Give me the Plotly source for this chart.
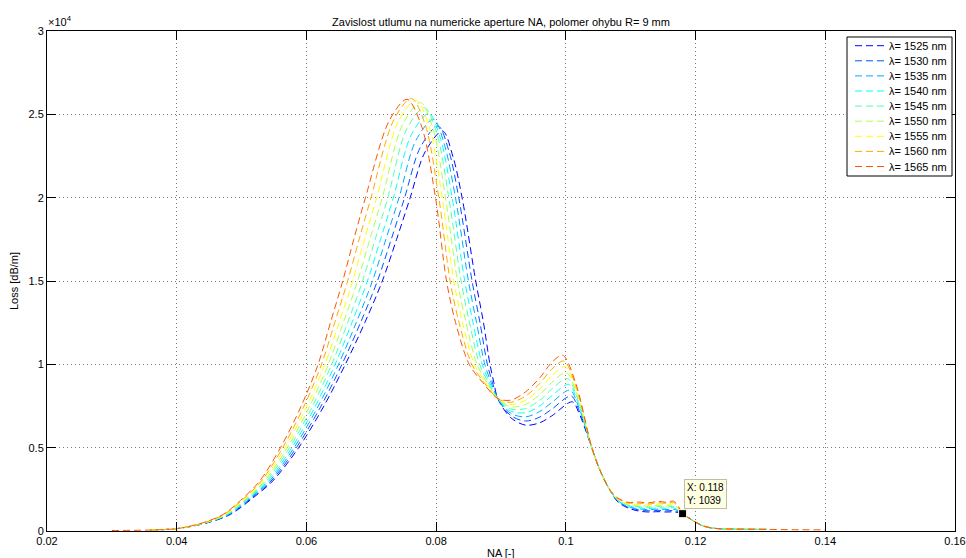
import plotly.graph_objects as go

# ---------------- data ----------------
wavelengths = [1525, 1530, 1535, 1540, 1545, 1550, 1555, 1560, 1565]
line_colors = ["rgb(0,0,255)", "rgb(0,85,255)", "rgb(0,170,255)", "rgb(0,255,255)",
               "rgb(85,255,170)", "rgb(170,255,85)", "rgb(255,255,0)", "rgb(255,170,0)",
               "rgb(255,85,0)"]

na_1525 = [0.036, 0.0402, 0.0448, 0.0483, 0.0518, 0.0548, 0.0588, 0.0627, 0.0660, 0.0690, 0.0717, 0.0739, 0.0760,
           0.0783, 0.0810, 0.0826, 0.0840, 0.0861, 0.0873, 0.0883, 0.0889, 0.0895, 0.0915, 0.0938, 0.0960, 0.0978,
           0.1010, 0.1020, 0.1040, 0.1052, 0.1068, 0.1080, 0.1096, 0.1112, 0.1128, 0.1142, 0.1156, 0.1166, 0.1174,
           0.1180, 0.1195, 0.1210, 0.1225, 0.1250, 0.1310]
loss_1525 = [60, 150, 500, 1000, 2000, 3000, 5000, 7500, 10000, 12500, 15000, 17500, 20000,
             22750, 24000, 22450, 20000, 15000, 12500, 10000, 8900, 7950, 6800, 6350, 6500, 6900,
             7750, 7100, 5000, 3700, 2450, 1750, 1380, 1200, 1140, 1160, 1140, 1150, 1100,
             1039, 650, 330, 180, 120, 95]

na_1530 = [0.036, 0.0402, 0.0447, 0.0482, 0.0516, 0.05455, 0.05845, 0.06226, 0.06548, 0.06834, 0.07094, 0.07308, 0.07514,
           0.0776, 0.0803, 0.0820, 0.08349, 0.08554, 0.08676, 0.0879, 0.08869, 0.0895, 0.0915, 0.0938, 0.0960, 0.0978,
           0.10081, 0.10194, 0.1040, 0.1052, 0.1068, 0.1080, 0.1096, 0.1112, 0.1128, 0.1142, 0.1156, 0.1166, 0.1174,
           0.1180, 0.1195, 0.1210, 0.1225, 0.1250, 0.1310]
loss_1530 = [60, 150, 500, 1000, 2000, 3000, 5000, 7500, 10000, 12500, 15000, 17500, 20000,
             23050, 24300, 22750, 20000, 15000, 12500, 10000, 8900, 7950, 6930, 6600, 6840, 7300,
             8100, 7325, 5000, 3700, 2450, 1780, 1420, 1270, 1210, 1240, 1210, 1230, 1145,
             1039, 650, 330, 180, 120, 95]

na_1535 = [0.036, 0.0402, 0.0446, 0.0480, 0.0514, 0.0543, 0.0581, 0.06183, 0.06495, 0.06768, 0.07018, 0.07225, 0.07428,
           0.0769, 0.0796, 0.0813, 0.08298, 0.08498, 0.08623, 0.0875, 0.08848, 0.0895, 0.0915, 0.0938, 0.0960, 0.0978,
           0.10063, 0.10188, 0.1040, 0.1052, 0.1068, 0.1080, 0.1096, 0.1112, 0.1128, 0.1142, 0.1156, 0.1166, 0.1174,
           0.1180, 0.1195, 0.1210, 0.1225, 0.1250, 0.1310]
loss_1535 = [60, 150, 500, 1000, 2000, 3000, 5000, 7500, 10000, 12500, 15000, 17500, 20000,
             23450, 24700, 23150, 20000, 15000, 12500, 10000, 8900, 7950, 7060, 6850, 7175, 7700,
             8450, 7550, 5000, 3700, 2450, 1810, 1465, 1335, 1280, 1315, 1285, 1310, 1190,
             1039, 650, 330, 180, 120, 95]

na_1540 = [0.036, 0.0402, 0.0445, 0.0479, 0.0512, 0.05405, 0.05775, 0.06139, 0.06443, 0.06701, 0.06941, 0.07143, 0.07341,
           0.0762, 0.0789, 0.0807, 0.08246, 0.08441, 0.08569, 0.0871, 0.08826, 0.0895, 0.0915, 0.0938, 0.0960, 0.0978,
           0.10044, 0.10181, 0.1040, 0.1052, 0.1068, 0.1080, 0.1096, 0.1112, 0.1128, 0.1142, 0.1156, 0.1166, 0.1174,
           0.1180, 0.1195, 0.1210, 0.1225, 0.1250, 0.1310]
loss_1540 = [60, 150, 500, 1000, 2000, 3000, 5000, 7500, 10000, 12500, 15000, 17500, 20000,
             23800, 25050, 23500, 20000, 15000, 12500, 10000, 8900, 7950, 7190, 7100, 7510, 8100,
             8800, 7775, 5000, 3700, 2450, 1835, 1510, 1400, 1345, 1390, 1360, 1390, 1230,
             1039, 650, 330, 180, 120, 95]

na_1545 = [0.036, 0.0402, 0.0445, 0.0478, 0.05105, 0.0538, 0.0574, 0.06095, 0.0639, 0.06635, 0.06865, 0.0706, 0.07255,
           0.0755, 0.0782, 0.0801, 0.08195, 0.08385, 0.08515, 0.0867, 0.08805, 0.0895, 0.0915, 0.0938, 0.0960, 0.0978,
           0.10025, 0.10175, 0.1040, 0.1052, 0.1068, 0.1080, 0.1096, 0.1112, 0.1128, 0.1142, 0.1156, 0.1166, 0.1174,
           0.1180, 0.1195, 0.1210, 0.1225, 0.1250, 0.1310]
loss_1545 = [60, 150, 500, 1000, 2000, 3000, 5000, 7500, 10000, 12500, 15000, 17500, 20000,
             24150, 25400, 23850, 20000, 15000, 12500, 10000, 8900, 7950, 7325, 7350, 7850, 8500,
             9150, 8000, 5000, 3700, 2450, 1865, 1550, 1470, 1415, 1470, 1430, 1470, 1275,
             1039, 650, 330, 180, 120, 95]

na_1550 = [0.036, 0.0402, 0.0444, 0.0476, 0.0509, 0.05355, 0.05705, 0.06051, 0.06338, 0.06569, 0.06789, 0.06978, 0.07169,
           0.0749, 0.0776, 0.0795, 0.08144, 0.08329, 0.08461, 0.0863, 0.08784, 0.0895, 0.0915, 0.0938, 0.0960, 0.0978,
           0.10006, 0.10169, 0.1040, 0.1052, 0.1068, 0.1080, 0.1096, 0.1112, 0.1128, 0.1142, 0.1156, 0.1166, 0.1174,
           0.1180, 0.1195, 0.1210, 0.1225, 0.1250, 0.1310]
loss_1550 = [60, 150, 500, 1000, 2000, 3000, 5000, 7500, 10000, 12500, 15000, 17500, 20000,
             24450, 25700, 24150, 20000, 15000, 12500, 10000, 8900, 7950, 7455, 7600, 8190, 8900,
             9500, 8225, 5000, 3700, 2450, 1895, 1590, 1540, 1485, 1550, 1500, 1550, 1320,
             1039, 650, 330, 180, 120, 95]

na_1555 = [0.036, 0.0402, 0.0443, 0.0475, 0.0507, 0.0533, 0.0567, 0.06008, 0.06285, 0.06503, 0.06713, 0.06895, 0.07083,
           0.0742, 0.0769, 0.0789, 0.08093, 0.08273, 0.08408, 0.0859, 0.08763, 0.0895, 0.0915, 0.0938, 0.0960, 0.0978,
           0.09988, 0.10163, 0.1040, 0.1052, 0.1068, 0.1080, 0.1096, 0.1112, 0.1128, 0.1142, 0.1156, 0.1166, 0.1174,
           0.1180, 0.1195, 0.1210, 0.1225, 0.1250, 0.1310]
loss_1555 = [60, 150, 500, 1000, 2000, 3000, 5000, 7500, 10000, 12500, 15000, 17500, 20000,
             24600, 25850, 24300, 20000, 15000, 12500, 10000, 8900, 7950, 7590, 7850, 8525, 9300,
             9850, 8450, 5000, 3700, 2450, 1925, 1635, 1605, 1550, 1625, 1575, 1630, 1360,
             1039, 650, 330, 180, 120, 95]

na_1560 = [0.036, 0.0402, 0.0442, 0.0473, 0.0505, 0.05305, 0.05635, 0.05964, 0.06233, 0.06436, 0.06636, 0.06813, 0.06996,
           0.0735, 0.0762, 0.0783, 0.08041, 0.08216, 0.08354, 0.0855, 0.08741, 0.0895, 0.0915, 0.0938, 0.0960, 0.0978,
           0.09969, 0.10156, 0.1040, 0.1052, 0.1068, 0.1080, 0.1096, 0.1112, 0.1128, 0.1142, 0.1156, 0.1166, 0.1174,
           0.1180, 0.1195, 0.1210, 0.1225, 0.1250, 0.1310]
loss_1560 = [60, 150, 500, 1000, 2000, 3000, 5000, 7500, 10000, 12500, 15000, 17500, 20000,
             24700, 25950, 24400, 20000, 15000, 12500, 10000, 8900, 7950, 7720, 8100, 8860, 9700,
             10200, 8675, 5000, 3700, 2450, 1950, 1680, 1670, 1620, 1700, 1650, 1710, 1405,
             1039, 650, 330, 180, 120, 95]

na_1565 = [0.030, 0.036, 0.0402, 0.0441, 0.0472, 0.0503, 0.0528, 0.0560, 0.0592, 0.0618, 0.0637, 0.0656, 0.0673, 0.0691,
           0.0728, 0.0755, 0.0777, 0.0799, 0.0816, 0.0830, 0.0851, 0.0872, 0.0895, 0.0915, 0.0938, 0.0960, 0.0978,
           0.0995, 0.1015, 0.1040, 0.1052, 0.1068, 0.1080, 0.1096, 0.1112, 0.1128, 0.1142, 0.1156, 0.1166, 0.1174,
           0.1180, 0.1195, 0.1210, 0.1225, 0.1250, 0.1310, 0.1350, 0.1400]
loss_1565 = [30, 60, 150, 500, 1000, 2000, 3000, 5000, 7500, 10000, 12500, 15000, 17500, 20000,
             24650, 25900, 24350, 20000, 15000, 12500, 10000, 8900, 7950, 7850, 8350, 9200, 10100,
             10550, 8900, 5000, 3700, 2450, 1980, 1720, 1740, 1690, 1780, 1720, 1790, 1450,
             1039, 650, 330, 180, 120, 95, 80, 70]

na_series = [na_1525, na_1530, na_1535, na_1540, na_1545, na_1550, na_1555, na_1560, na_1565]
loss_series = [loss_1525, loss_1530, loss_1535, loss_1540, loss_1545, loss_1550, loss_1555, loss_1560, loss_1565]

x_tick_values = [0.02, 0.04, 0.06, 0.08, 0.10, 0.12, 0.14, 0.16]
x_tick_labels = ["0.02", "0.04", "0.06", "0.08", "0.1", "0.12", "0.14", "0.16"]
y_tick_values = [0, 5000, 10000, 15000, 20000, 25000, 30000]
y_tick_labels = ["0", "0.5", "1", "1.5", "2", "2.5", "3"]

cursor_na = 0.118
cursor_loss = 1039

title_text = "Zavislost utlumu na numericke aperture NA, polomer ohybu R= 9 mm"
x_title = "NA [-]"
y_title = "Loss [dB/m]"

# ---------------- figure ----------------
FONT = "Liberation Sans, Arial, Helvetica, sans-serif"
W, H = 966, 558
ML, MR, MT, MB = 47, 11, 31, 27
PW, PH = W - ML - MR, H - MT - MB


def px_x(px):
    return (px - ML) / PW


def px_y(py):
    return (H - MB - py) / PH


fig = go.Figure()

for na, loss, wl, col in zip(na_series, loss_series, wavelengths, line_colors):
    fig.add_trace(go.Scatter(
        x=na, y=loss, mode="lines", name=f"λ= {wl} nm",
        line=dict(color=col, width=1, dash="7px,4px", shape="spline", smoothing=0.9),
        showlegend=False, hoverinfo="skip"))

# data cursor marker
fig.add_trace(go.Scatter(
    x=[cursor_na], y=[cursor_loss], mode="markers",
    marker=dict(symbol="square", size=8, color="black",
                line=dict(color="rgb(255,255,225)", width=1)),
    showlegend=False, hoverinfo="skip"))

axis_common = dict(
    showline=True, linecolor="black", linewidth=1, mirror="ticks",
    ticks="inside", ticklen=9, tickcolor="black", tickwidth=1,
    showgrid=True, gridcolor="#7a7a7a", gridwidth=1, griddash="1px,3px",
    zeroline=False, tickfont=dict(family=FONT, size=11, color="black"),
    automargin=False,
)

fig.update_layout(
    width=W, height=H, autosize=False,
    margin=dict(l=ML, r=MR, t=MT, b=MB),
    paper_bgcolor="white", plot_bgcolor="white",
    template="none",
    font=dict(family=FONT, size=11, color="black"),
    title=dict(text=title_text, x=0.5, xref="paper", xanchor="center",
               y=1 - 22 / H, yref="container", yanchor="middle",
               font=dict(family=FONT, size=11, color="black")),
    xaxis=dict(range=[0.02, 0.16], tickvals=x_tick_values, ticktext=x_tick_labels, **axis_common),
    yaxis=dict(range=[0, 30000], tickvals=y_tick_values, ticktext=y_tick_labels, **axis_common),
    showlegend=False,
)

annotations = []
shapes = []

# axis titles and exponent
annotations.append(dict(text=x_title, xref="paper", yref="paper", x=0.5, y=px_y(553),
                        xanchor="center", yanchor="middle", showarrow=False,
                        font=dict(family=FONT, size=11, color="black")))
annotations.append(dict(text=y_title, xref="paper", yref="paper", x=px_x(14), y=0.5,
                        xanchor="center", yanchor="middle", textangle=-90, showarrow=False,
                        font=dict(family=FONT, size=11, color="black")))
annotations.append(dict(text="×10<sup>4</sup>", xref="paper", yref="paper", x=px_x(46), y=px_y(21),
                        xanchor="left", yanchor="middle", showarrow=False,
                        font=dict(family=FONT, size=11, color="black")))

# data tip
annotations.append(dict(text=f"X: {cursor_na}<br>Y: {cursor_loss}", x=cursor_na, y=cursor_loss,
                        xref="x", yref="y", xanchor="left", yanchor="bottom", xshift=1, yshift=5,
                        align="left", showarrow=False, bgcolor="rgb(255,255,225)",
                        bordercolor="rgb(190,190,160)", borderwidth=1, borderpad=2,
                        font=dict(family=FONT, size=10, color="black")))

# legend box
lg_left, lg_right, lg_top, lg_bottom = 847, 952, 37, 176
shapes.append(dict(type="rect", xref="paper", yref="paper", layer="above",
                   x0=px_x(lg_left), x1=px_x(lg_right), y0=px_y(lg_bottom), y1=px_y(lg_top),
                   line=dict(color="black", width=1), fillcolor="white"))
for i, (wl, col) in enumerate(zip(wavelengths, line_colors)):
    row_py = 45.7 + 15.1 * i
    shapes.append(dict(type="line", xref="paper", yref="paper", layer="above",
                       x0=px_x(855), x1=px_x(886), y0=px_y(row_py), y1=px_y(row_py),
                       line=dict(color=col, width=1, dash="7px,4px")))
    annotations.append(dict(text=f"λ= {wl} nm", xref="paper", yref="paper",
                            x=px_x(887), y=px_y(row_py), xanchor="left", yanchor="middle",
                            showarrow=False, font=dict(family=FONT, size=11, color="black")))

fig.update_layout(annotations=annotations, shapes=shapes)

fig.write_html("out.html")
